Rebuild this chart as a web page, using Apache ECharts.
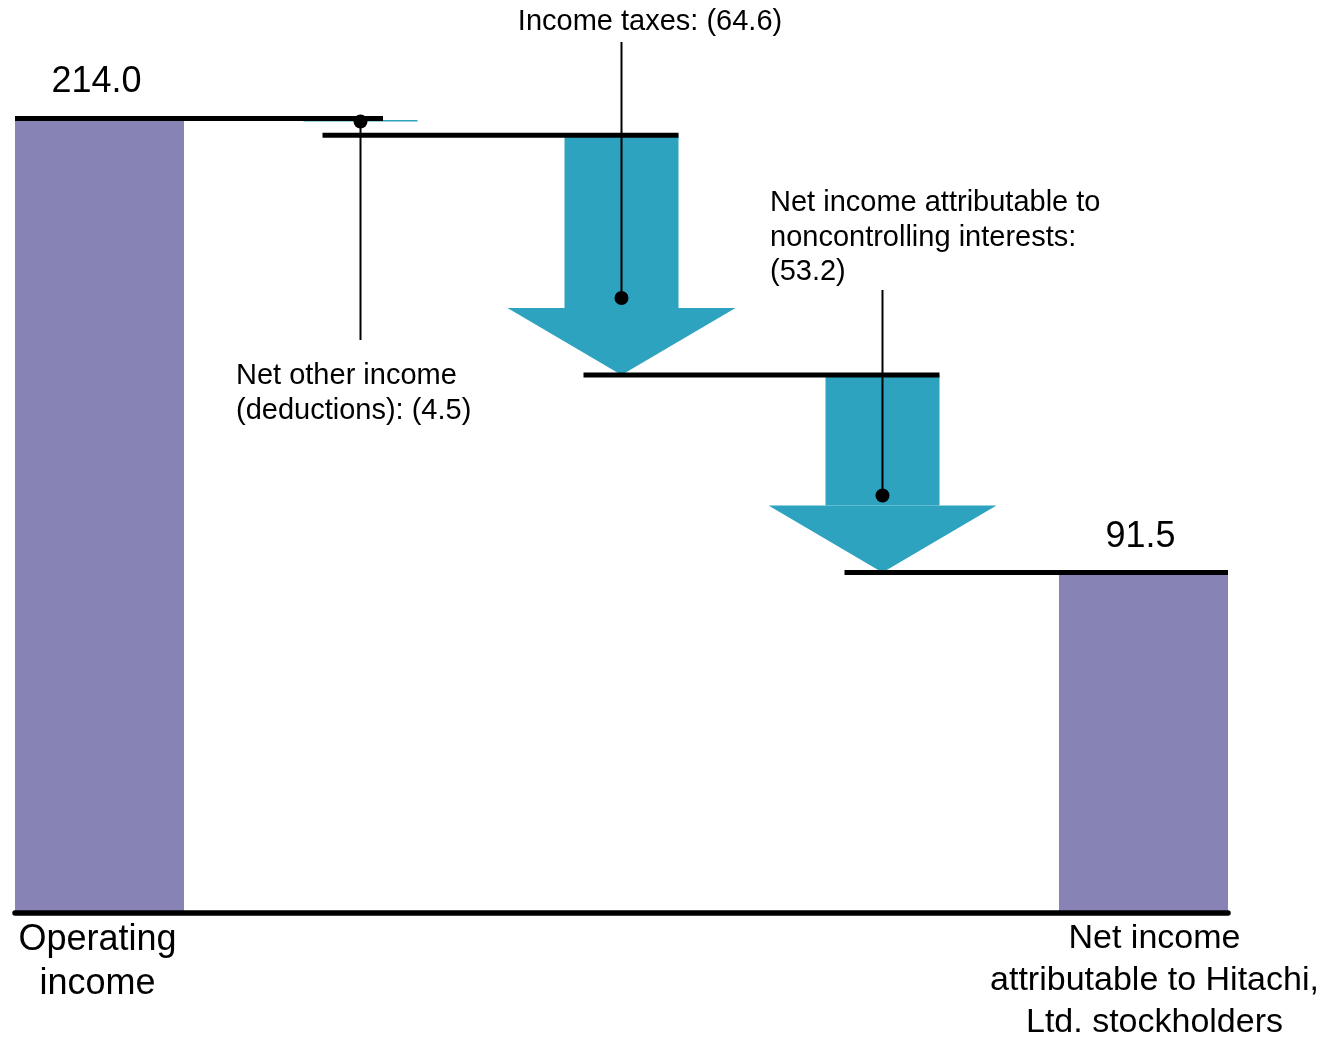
<!DOCTYPE html>
<html>
<head>
<meta charset="utf-8">
<script src="https://cdn.jsdelivr.net/npm/echarts@6/dist/echarts.min.js"></script>
<style>
html,body{margin:0;padding:0;background:#ffffff;}
#chart{width:1328px;height:1037px;}
</style>
</head>
<body>
<div id="chart"></div>
<script>
// ---------------- DATA ----------------
const stepNames = [
  'Operating income',
  'Net other income (deductions)',
  'Income taxes',
  'Net income attributable to noncontrolling interests',
  'Net income attributable to Hitachi, Ltd. stockholders'
];
const stepValues = [214.0, -4.5, -64.6, -53.2, 91.5];
const stepIsTotal = [true, false, false, false, true];
const valueLabels = ['214.0', '', '', '', '91.5'];
const axisLabels = ['Operating\nincome', '', '', '', 'Net income\nattributable to Hitachi,\nLtd. stockholders'];
const calloutLabels = [
  '',
  'Net other income\n(deductions): (4.5)',
  'Income taxes: (64.6)',
  'Net income attributable to\nnoncontrolling interests:\n(53.2)',
  ''
];

// build waterfall rows [index, start, end] from the values
const rows = [];
let running = 0;
stepValues.forEach(function (v, i) {
  if (stepIsTotal[i]) { rows.push([i, 0, v]); running = v; }
  else { rows.push([i, running, running + v]); running += v; }
});

// ---------------- STYLE / LAYOUT ----------------
const FONT = '"Liberation Sans", Arial, Helvetica, sans-serif';
const PURPLE = '#8783b4';
const TEAL = '#2ea3c0';
const BAR_W = 169, SHAFT_W = 114, HEAD_W = 228, HEAD_H = 67, LEVEL_W = 5;
// annotation placement (pixels)
const calloutLayout = {
  1: { lineTo: 340, tx: 236, ty: 358, align: 'left', vAlign: 'top', lh: 35 },
  2: { lineTo: 42, tx: 650, ty: 22, align: 'center', vAlign: 'middle', lh: 35 },
  3: { lineTo: 290, tx: 770, ty: 186, align: 'left', vAlign: 'top', lh: 34.5 }
};
const axisLabelLayout = {
  0: { dx: -2, size: 36, lh: 44 },
  4: { dx: 11, size: 34, lh: 42 }
};

function txt(text, x, y, size, align, vAlign, lh) {
  return {
    type: 'text',
    z2: 50,
    style: {
      text: text, x: x, y: y,
      font: 'normal ' + size + 'px ' + FONT,
      fill: '#000000',
      align: align, verticalAlign: vAlign,
      textAlign: align, textVerticalAlign: vAlign,
      lineHeight: lh || Math.round(size * 1.2)
    }
  };
}

function renderItem(params, api) {
  const i = api.value(0);
  const start = api.value(1);
  const end = api.value(2);
  const p0 = api.coord([i, start]);
  const p1 = api.coord([i, end]);
  const cx = p0[0];
  const children = [];

  if (stepIsTotal[i]) {
    const yTop = p1[1], yBot = p0[1];
    children.push({
      type: 'rect', z2: 1,
      shape: { x: cx - BAR_W / 2, y: yTop, width: BAR_W, height: yBot - yTop },
      style: { fill: PURPLE }
    });
    if (i === 0) {
      children.push({
        type: 'line', z2: 10,
        shape: { x1: cx - BAR_W / 2, y1: yTop, x2: cx + 283.5, y2: yTop },
        style: { stroke: '#000', lineWidth: LEVEL_W }
      });
    }
    if (valueLabels[i]) {
      children.push(txt(valueLabels[i], cx - 3, yTop - 36, 36, 'center', 'middle'));
    }
    if (axisLabels[i]) {
      const L = axisLabelLayout[i];
      children.push(txt(axisLabels[i], cx + L.dx, api.coord([i, 0])[1] + 5, L.size, 'center', 'top', L.lh));
    }
  } else {
    const yS = p0[1], yE = p1[1];
    const h = yE - yS;
    let dotY;
    if (h > HEAD_H + 4) {
      const yNeck = yE - HEAD_H;
      children.push({
        type: 'rect', z2: 2,
        shape: { x: cx - SHAFT_W / 2, y: yS, width: SHAFT_W, height: yNeck - yS },
        style: { fill: TEAL }
      });
      children.push({
        type: 'polygon', z2: 2,
        shape: { points: [[cx - HEAD_W / 2, yNeck], [cx + HEAD_W / 2, yNeck], [cx, yE]] },
        style: { fill: TEAL }
      });
      dotY = yNeck - 10;
    } else {
      // too short to draw as an arrow: hairline
      children.push({
        type: 'rect', z2: 2,
        shape: { x: cx - SHAFT_W / 2, y: yS + 1.5, width: SHAFT_W, height: 1.5 },
        style: { fill: TEAL }
      });
      dotY = yS + 3;
    }
    // level line at the end of this step
    const next = i + 1;
    const nextCx = api.coord([next, 0])[0];
    const nextHalf = stepIsTotal[next] ? BAR_W / 2 : SHAFT_W / 2;
    children.push({
      type: 'line', z2: 10,
      shape: { x1: cx - 38, y1: yE, x2: nextCx + nextHalf, y2: yE },
      style: { stroke: '#000', lineWidth: LEVEL_W }
    });
    // callout
    const C = calloutLayout[i];
    if (C && calloutLabels[i]) {
      children.push({
        type: 'line', z2: 20,
        shape: { x1: cx, y1: dotY, x2: cx, y2: C.lineTo },
        style: { stroke: '#000', lineWidth: 2 }
      });
      children.push({
        type: 'circle', z2: 21,
        shape: { cx: cx, cy: dotY, r: 7 },
        style: { fill: '#000' }
      });
      children.push(txt(calloutLabels[i], C.tx, C.ty, 29, C.align, C.vAlign, C.lh));
    }
  }
  return { type: 'group', children: children };
}

const chart = echarts.init(document.getElementById('chart'), null, { renderer: 'canvas' });
chart.setOption({
  backgroundColor: '#ffffff',
  animation: false,
  grid: { left: 15, right: 100, top: 22, bottom: 124 },
  xAxis: {
    type: 'value',
    z: 10,
    min: -0.3238,
    max: 4.3238,
    axisLine: { show: true, onZero: true, lineStyle: { color: '#000000', width: 5.5 } },
    axisTick: { show: false },
    axisLabel: { show: false },
    splitLine: { show: false }
  },
  yAxis: {
    type: 'value',
    min: 0,
    max: 240,
    show: false,
    splitLine: { show: false }
  },
  series: [{
    type: 'custom',
    name: 'Waterfall',
    clip: false,
    renderItem: renderItem,
    encode: { x: 0, y: [1, 2] },
    data: rows.map(function (r, k) { return { name: stepNames[k], value: r }; }),
    z: 2
  }]
});
</script>
</body>
</html>
